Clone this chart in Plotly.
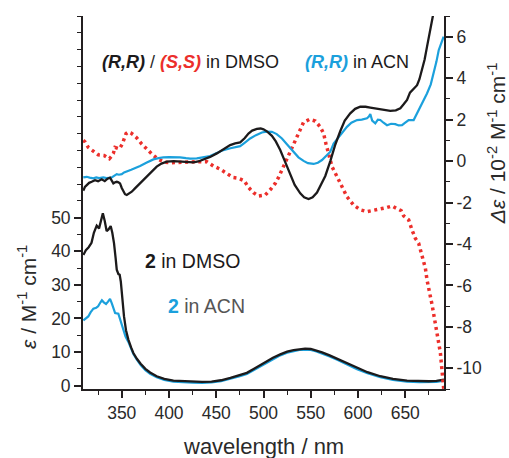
import plotly.graph_objects as go

# ---------------- data ----------------
# absorption, compound 2 in DMSO (left axis, epsilon / M^-1 cm^-1)
abs_dmso_wl = [309.4, 312, 315, 318, 320.5, 323.5, 326, 328, 330, 332, 334, 336, 338.3, 340, 341.8,
               343.5, 344.7, 346.5, 347.8, 349, 350.5, 352.4, 354.5, 357, 360, 362.3, 366, 370, 375,
               380, 387, 395, 404.7, 415, 425, 435, 445, 455, 465, 475, 482.4, 490, 500, 510, 517.7,
               525, 531.8, 538, 544, 550, 556, 562, 570, 578, 588, 599, 610, 623.6, 637, 651.9, 665,
               675, 683, 691]
abs_dmso_eps = [38.9, 40.3, 41.2, 42.5, 45.5, 47.6, 46.8, 49.0, 51.3, 49.0, 46.0, 46.5, 47.5, 45.5, 42.4,
                38.0, 34.5, 33.2, 33.0, 31.0, 26.0, 20.6, 16.5, 13.7, 11.3, 9.7, 8.0, 6.5, 5.0,
                3.9, 2.8, 2.0, 1.5, 1.3, 1.15, 1.1, 1.2, 1.6, 2.3, 3.1, 3.8, 5.0, 6.7, 8.3, 9.3,
                10.1, 10.6, 10.9, 11.0, 10.9, 10.5, 9.9, 9.0, 8.0, 6.6, 5.2, 4.0, 2.8, 2.0, 1.5, 1.3,
                1.3, 1.4, 1.8]

# absorption, compound 2 in ACN
abs_acn_wl = [309.4, 312, 314.6, 317, 320, 323, 325, 327.5, 329, 331, 333.4, 335.5, 337.6, 339.5, 341.5,
              343, 346.4, 348, 350, 352, 354, 357, 360, 362.3, 366, 370, 375, 380, 387, 395, 404.7,
              415, 425, 435, 445, 455, 465, 475, 482.4, 490, 500, 510, 517.7, 525, 531.8, 538, 544,
              550, 556, 562, 570, 578, 588, 599, 610, 623.6, 637, 651.9, 665, 675, 683, 691]
abs_acn_eps = [19.4, 20.0, 20.6, 21.8, 22.9, 23.2, 23.6, 24.8, 25.4, 24.8, 24.3, 25.0, 25.8, 24.5, 22.5,
               21.6, 21.4, 20.0, 18.1, 16.2, 14.6, 13.0, 11.0, 9.4, 7.7, 6.1, 4.6, 3.5, 2.5, 1.7, 1.2,
               1.0, 0.9, 0.85, 0.95, 1.35, 2.0, 2.8, 3.5, 4.7, 6.4, 8.0, 9.0, 9.8, 10.3, 10.6, 10.7,
               10.6, 10.2, 9.6, 8.7, 7.7, 6.3, 4.9, 3.7, 2.5, 1.7, 1.2, 1.05, 1.05, 1.15, 1.5]

# CD, (R,R) in DMSO (right axis, delta-epsilon / 10^-2 M^-1 cm^-1)
cd_rr_dmso_wl = [309.3, 311, 313, 315.5, 318.2, 321.7, 325, 328.8, 332, 335, 337.6, 339.5, 341.1, 343,
                 344.7, 346.5, 348.2, 350, 351.7, 353.5, 355.3, 357.5, 360.6, 364, 367.6, 372, 376.5,
                 382, 387, 392, 397.7, 405, 411.8, 418, 425.8, 431, 436.4, 443.5, 450.6, 457.6, 464.7,
                 470, 475.3, 480, 484.1, 488, 493, 497, 500, 504, 508.9, 513, 517.7, 523, 528.3, 533,
                 538.9, 543, 547.7, 552, 556.6, 561, 565.4, 570.7, 576, 581.3, 586, 591.8, 597, 602.4,
                 608, 613, 618, 623.6, 629, 634.2, 640, 644.8, 648.5, 651.9, 655, 657.2, 660, 662.5,
                 665, 667.8, 670.5, 673, 676, 678.4, 681, 683]
cd_rr_dmso = [-1.43, -1.25, -1.16, -1.05, -1.0, -0.92, -0.97, -0.88, -0.97, -0.85, -0.80, -0.95, -1.08,
              -1.02, -1.0, -1.03, -1.08, -1.3, -1.48, -1.6, -1.64, -1.58, -1.48, -1.32, -1.16, -0.95,
              -0.75, -0.5, -0.27, -0.12, -0.03, 0.0, -0.03, -0.05, -0.06, -0.02, 0.06, 0.2, 0.37, 0.57,
              0.77, 0.85, 0.9, 1.1, 1.33, 1.47, 1.55, 1.57, 1.53, 1.42, 1.22, 0.95, 0.53, -0.05, -0.67,
              -1.15, -1.56, -1.75, -1.83, -1.75, -1.52, -1.15, -0.72, 0.0, 0.8, 1.45, 1.95, 2.3, 2.52,
              2.62, 2.62, 2.58, 2.54, 2.5, 2.45, 2.42, 2.45, 2.55, 2.75, 2.95, 3.3, 3.42, 3.55, 3.66,
              3.95, 4.39, 4.9, 5.51, 6.2, 6.85, 7.4, 7.9]

# CD, (R,R) in ACN
cd_rr_acn_wl = [309.3, 313, 316, 320, 323, 326, 330.5, 334, 339, 341, 343, 344.7, 347, 350, 352.5, 355.3,
                360, 365, 369.4, 376, 383.5, 389, 394, 400, 405, 411.8, 418, 422.4, 429.4, 436, 443.5,
                450, 457.6, 465, 470, 475.3, 480, 485.9, 492, 498.3, 503, 508.9, 514, 519.5, 525, 531.8,
                537, 542.4, 547, 553, 557.5, 561.9, 566, 570.7, 574.2, 580, 588.3, 593, 599, 604, 609.5,
                611.5, 613, 615, 618.3, 621, 623.6, 627, 630.7, 635, 639.5, 643, 646.6, 650, 653.6,
                658.9, 662, 666, 670, 673, 677, 680, 683, 685.4, 688, 690.6]
cd_rr_acn = [-0.79, -0.76, -0.80, -0.83, -0.79, -0.82, -0.79, -0.82, -0.80, -0.75, -0.66, -0.63, -0.66,
             -0.63, -0.55, -0.51, -0.42, -0.32, -0.24, -0.08, 0.08, 0.14, 0.18, 0.19, 0.2, 0.18, 0.14,
             0.12, 0.13, 0.17, 0.24, 0.38, 0.53, 0.62, 0.67, 0.72, 0.88, 1.09, 1.25, 1.38, 1.42, 1.41,
             1.3, 1.09, 0.8, 0.45, 0.18, 0.01, -0.1, -0.14, -0.08, 0.05, 0.25, 0.45, 0.85, 1.2, 1.65,
             1.85, 1.98, 2.0, 2.06, 2.15, 2.27, 1.95, 1.82, 2.0, 1.98, 1.85, 1.73, 1.8, 1.78, 1.72,
             1.73, 1.85, 1.98, 1.98, 2.25, 2.62, 2.95, 3.26, 3.7, 4.23, 4.8, 5.35, 5.7, 6.0]

# CD, (S,S) in DMSO
cd_ss_dmso_wl = [309.3, 311.1, 314.6, 320, 325.2, 331.3, 334, 336.9, 339, 341.1, 342.9, 345, 347.5, 350.6,
                 352.8, 354.5, 357, 359.5, 362.5, 365.9, 371.2, 376.5, 382.8, 388.8, 395.9, 403, 410,
                 420, 430, 440, 447, 454.1, 461.2, 467.6, 473.5, 479.6, 484.1, 489.4, 494.7, 501.8,
                 507.8, 512.4, 515.9, 519.5, 524.8, 528.3, 533.6, 537.1, 542.4, 548.7, 554.8, 560,
                 563.6, 566, 569, 572.5, 577.8, 583, 588.3, 595.3, 602.4, 609.5, 616.5, 623.6, 630,
                 636, 640.6, 645.6, 648.3, 653.6, 657.2, 660.7, 664.2, 666, 667.8, 669.5, 671.3, 673,
                 674.8, 676.6, 678.4, 680, 681.9, 683.7, 685.4, 687.2, 688.2, 689, 690, 690.7]
cd_ss_dmso = [1.0, 0.93, 0.66, 0.45, 0.3, 0.27, 0.2, 0.11, 0.22, 0.37, 0.66, 0.62, 0.59, 0.82, 1.09, 1.32,
              1.4, 1.36, 1.26, 1.12, 0.82, 0.56, 0.3, 0.08, -0.06, -0.08, -0.06, -0.04, -0.03, -0.03,
              -0.24, -0.39, -0.59, -0.79, -0.83, -0.95, -1.27, -1.53, -1.69, -1.64, -1.35, -1.08, -0.79,
              -0.43, 0.13, 0.53, 1.01, 1.33, 1.87, 2.01, 1.93, 1.65, 1.33, 0.85, 0.3, -0.27, -0.75,
              -1.24, -1.72, -2.12, -2.35, -2.44, -2.39, -2.31, -2.25, -2.17, -2.28, -2.39, -2.65, -2.84,
              -3.33, -3.73, -3.97, -4.26, -4.53, -4.85, -5.17, -5.73, -6.06, -6.54, -6.94, -7.42, -7.82,
              -8.3, -8.78, -9.27, -9.75, -10.23, -10.7, -11.0]

x_tickvals = [350, 400, 450, 500, 550, 600, 650]
eps_tickvals = [0, 10, 20, 30, 40, 50]
eps_upper_tickvals = [60, 70, 80, 90, 100]   # unlabelled ticks above the epsilon scale
cd_tickvals = [-10, -8, -6, -4, -2, 0, 2, 4, 6]
cd_ticktext = ["-10", "-8", "-6", "-4", "-2", "0", "2", "4", "6"]

# ---------------- style ----------------
BLACK = "#1c1a1b"
BLUE = "#1ba0dc"
RED = "#ec2f2b"
AX = "#231f20"
TXT = "#2a2a2a"
FONT = "Liberation Sans, Arial, sans-serif"

fig = go.Figure()

fig.add_trace(go.Scatter(x=abs_acn_wl, y=abs_acn_eps, mode="lines",
                         line=dict(color=BLUE, width=2.2), xaxis="x", yaxis="y"))
fig.add_trace(go.Scatter(x=abs_dmso_wl, y=abs_dmso_eps, mode="lines",
                         line=dict(color=BLACK, width=2.3), xaxis="x", yaxis="y"))
fig.add_trace(go.Scatter(x=cd_ss_dmso_wl, y=cd_ss_dmso, mode="lines",
                         line=dict(color=RED, width=3.5, dash="3px,3.6px"), xaxis="x", yaxis="y2"))
fig.add_trace(go.Scatter(x=cd_rr_acn_wl, y=cd_rr_acn, mode="lines",
                         line=dict(color=BLUE, width=2.2), xaxis="x", yaxis="y2"))
fig.add_trace(go.Scatter(x=cd_rr_dmso_wl, y=cd_rr_dmso, mode="lines",
                         line=dict(color=BLACK, width=2.3), xaxis="x", yaxis="y2"))

tickfont = dict(family=FONT, size=17.5, color=TXT)
minor_y = dict(ticks="outside", ticklen=4, tickwidth=1.4, tickcolor=AX, dtick=5, tick0=0)

fig.update_layout(
    width=509, height=458,
    margin=dict(l=83, r=64.5, t=16, b=69),
    paper_bgcolor="white", plot_bgcolor="white",
    showlegend=False,
    font=dict(family=FONT, color=TXT),
    xaxis=dict(range=[309, 691], showgrid=False, zeroline=False,
               showline=True, linecolor=AX, linewidth=1.8,
               tickmode="array", tickvals=x_tickvals, ticks="outside", ticklen=7, tickwidth=1.6,
               tickcolor=AX, tickfont=tickfont,
               minor=dict(ticks="outside", ticklen=4, tickwidth=1.4, tickcolor=AX, dtick=25, tick0=300)),
    xaxis2=dict(range=[309, 691], overlaying="x", side="top", anchor="y", matches="x",
                showgrid=False, zeroline=False, showline=True, linecolor=AX, linewidth=1.8,
                tickmode="array", tickvals=x_tickvals, ticks="inside", ticklen=7, tickwidth=1.6,
                tickcolor=AX, showticklabels=False,
                minor=dict(ticks="inside", ticklen=4, tickwidth=1.4, tickcolor=AX, dtick=25, tick0=300)),
    yaxis=dict(range=[-1, 110], showgrid=False, zeroline=False,
               showline=True, linecolor=AX, linewidth=1.8,
               tickmode="array", tickvals=eps_tickvals,
               ticks="outside", ticklen=7, tickwidth=1.6, tickcolor=AX, tickfont=tickfont,
               minor=minor_y),
    yaxis3=dict(range=[-1, 110], overlaying="y", side="left", anchor="x",
                showgrid=False, zeroline=False, showline=False, showticklabels=False,
                tickmode="array", tickvals=eps_upper_tickvals,
                ticks="outside", ticklen=7, tickwidth=1.6, tickcolor=AX),
    yaxis2=dict(range=[-11, 7], overlaying="y", side="right", anchor="x",
                showgrid=False, zeroline=False, showline=True, linecolor=AX, linewidth=1.8,
                tickmode="array", tickvals=cd_tickvals, ticktext=cd_ticktext,
                ticks="outside", ticklen=7, tickwidth=1.6, tickcolor=AX, tickfont=tickfont,
                minor=dict(ticks="outside", ticklen=4, tickwidth=1.4, tickcolor=AX, dtick=1, tick0=0)),
)

def ann(text, x, y, size, xanchor="left", angle=0, color=TXT):
    fig.add_annotation(text=text, xref="paper", yref="paper", x=x, y=y,
                       xanchor=xanchor, yanchor="middle", showarrow=False, textangle=angle,
                       font=dict(family=FONT, size=size, color=color))

ann("wavelength / nm", 0.5, -0.153, 22, xanchor="center")
ann("<i>ε</i> / M<sup>-1</sup> cm<sup>-1</sup>", -0.155, 0.247, 21, xanchor="center", angle=-90)
ann("<i>Δε</i> / 10<sup>-2</sup> M<sup>-1</sup> cm<sup>-1</sup>", 1.145, 0.66, 21, xanchor="center", angle=-90)

ann(f"<span style='color:{BLACK}'><b><i>(R,R)</i></b></span> / "
    f"<span style='color:{RED}'><b><i>(S,S)</i></b></span>"
    f"<span style='color:{BLACK}'> in DMSO</span>", 0.047, 0.8775, 18)
ann(f"<span style='color:{BLUE}'><b><i>(R,R)</i></b></span>"
    f"<span style='color:{BLACK}'> in ACN</span>", 0.6094, 0.8775, 18)
ann(f"<span style='color:{BLACK}'><b>2</b> in DMSO</span>", 0.166, 0.343, 19.5)
ann(f"<span style='color:{BLUE}'><b>2</b></span><span style='color:#555555'> in ACN</span>",
    0.2296, 0.2225, 19.5)

fig.write_html("out.html", config={"displayModeBar": False},
               post_script="document.body.style.margin='0px';document.body.style.padding='0px';")
